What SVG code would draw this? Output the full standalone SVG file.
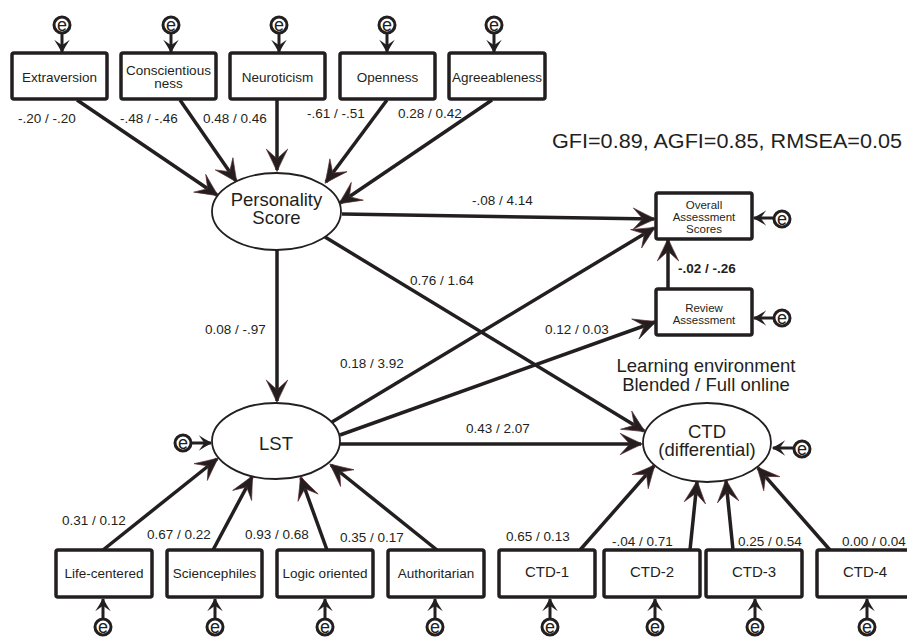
<svg xmlns="http://www.w3.org/2000/svg" width="907" height="637" viewBox="0 0 907 637">
  <style>
    text { font-family: "Liberation Sans", Arial, Helvetica, sans-serif; fill: #231f20; }
    .box { fill: #fff; stroke: #231f20; stroke-width: 3.5; }
    .ell { fill: #fff; stroke: #231f20; stroke-width: 1.8; }
    .edge { fill: none; stroke: #231f20; stroke-width: 3.5; marker-end: url(#ah); }
    .eline { fill: none; stroke: #231f20; stroke-width: 3; marker-end: url(#ahs); }
    .ering { fill: #fff; stroke: #231f20; stroke-width: 3; }
    .etxt { font-size: 18px; text-anchor: middle; }
    .node { font-size: 13.5px; text-anchor: middle; }
    .small { font-size: 11.5px; text-anchor: middle; }
    .big { font-size: 18.5px; text-anchor: middle; }
    .ctd { font-size: 15px; text-anchor: middle; }
    .lbl { font-size: 13.5px; }
  </style>
  <defs>
    <marker id="ah" markerUnits="userSpaceOnUse" markerWidth="30" markerHeight="30" viewBox="-24 -13 28 26" refX="-1.5" refY="0" orient="auto">
      <path d="M0,0 Q-9,-4 -21,-10 L-12,0 L-21,10 Q-9,4 0,0 Z" fill="#231f20" stroke="#5a2a2e" stroke-width="0.6"/>
    </marker>
    <marker id="ahs" markerUnits="userSpaceOnUse" markerWidth="20" markerHeight="20" viewBox="-15 -9 17 18" refX="-1" refY="0" orient="auto">
      <path d="M0,0 Q-6,-3 -12,-7 L-7,0 L-12,7 Q-6,3 0,0 Z" fill="#231f20"/>
    </marker>
  </defs>

  <!-- connectors -->
  <g id="connectors">
    <line class="edge" x1="77" y1="100" x2="217" y2="195"/>
    <line class="edge" x1="180" y1="100" x2="236" y2="181"/>
    <line class="edge" x1="277" y1="100" x2="277" y2="170"/>
    <line class="edge" x1="387" y1="100" x2="326" y2="182"/>
    <line class="edge" x1="492" y1="100" x2="340" y2="203"/>

    <line class="edge" x1="342" y1="214" x2="654" y2="219"/>
    <line class="edge" x1="277" y1="250" x2="277" y2="401"/>
    <line class="edge" x1="325" y1="237" x2="644" y2="431"/>
    <line class="edge" x1="332" y1="422" x2="654" y2="228"/>
    <line class="edge" x1="340" y1="435" x2="655" y2="322"/>
    <line class="edge" x1="340" y1="444" x2="641" y2="444"/>
    <line class="edge" x1="668" y1="289" x2="668" y2="240"/>

    <line class="edge" x1="103" y1="550" x2="217" y2="459"/>
    <line class="edge" x1="213" y1="550" x2="252" y2="477"/>
    <line class="edge" x1="327" y1="550" x2="301" y2="478"/>
    <line class="edge" x1="437" y1="550" x2="331" y2="465"/>

    <line class="edge" x1="580" y1="550" x2="654" y2="466"/>
    <line class="edge" x1="690" y1="550" x2="697" y2="482"/>
    <line class="edge" x1="733" y1="550" x2="726" y2="481"/>
    <line class="edge" x1="830" y1="550" x2="758" y2="468"/>
  </g>

  <!-- path coefficients -->
  <g id="labels">
    <text class="lbl" x="18" y="123">-.20 / -.20</text>
    <text class="lbl" x="120" y="123">-.48 / -.46</text>
    <text class="lbl" x="203" y="123">0.48 / 0.46</text>
    <text class="lbl" x="307" y="118">-.61 / -.51</text>
    <text class="lbl" x="398" y="118">0.28 / 0.42</text>
    <text class="lbl" x="472" y="205">-.08 / 4.14</text>
    <text class="lbl" x="410" y="285">0.76 / 1.64</text>
    <text class="lbl" x="205" y="334">0.08 / -.97</text>
    <text class="lbl" x="340" y="368">0.18 / 3.92</text>
    <text class="lbl" x="545" y="334">0.12 / 0.03</text>
    <text class="lbl" x="466" y="433">0.43 / 2.07</text>
    <text class="lbl" x="678" y="273" font-weight="bold">-.02 / -.26</text>
    <text class="lbl" x="62" y="525">0.31 / 0.12</text>
    <text class="lbl" x="147" y="539">0.67 / 0.22</text>
    <text class="lbl" x="245" y="539">0.93 / 0.68</text>
    <text class="lbl" x="340" y="542">0.35 / 0.17</text>
    <text class="lbl" x="506" y="541">0.65 / 0.13</text>
    <text class="lbl" x="612" y="546">-.04 / 0.71</text>
    <text class="lbl" x="738" y="546">0.25 / 0.54</text>
    <text class="lbl" x="842" y="546">0.00 / 0.04</text>
  </g>

  <text x="552" y="148" font-size="20" textLength="350" lengthAdjust="spacingAndGlyphs">GFI=0.89, AGFI=0.85, RMSEA=0.05</text>
  <text class="big" x="706" y="372" font-size="19">Learning environment</text>
  <text class="big" x="706" y="391" font-size="19">Blended / Full online</text>

  <!-- personality trait indicators -->
  <g id="extraversion">
    <rect class="box" x="12" y="53" width="95" height="46" rx="2"/>
    <text class="node" x="59.5" y="82">Extraversion</text>
    <line class="eline" x1="62" y1="34" x2="62" y2="52"/>
    <circle class="ering" cx="62" cy="25" r="8"/>
    <text class="etxt" x="62" y="31">e</text>
  </g>
  <g id="conscientiousness">
    <rect class="box" x="121" y="53" width="95" height="46" rx="2"/>
    <text class="node" x="168.5" y="75" font-size="13">Conscientious</text>
    <text class="node" x="168.5" y="88" font-size="13">ness</text>
    <line class="eline" x1="171" y1="34" x2="171" y2="52"/>
    <circle class="ering" cx="171" cy="25" r="8"/>
    <text class="etxt" x="171" y="31">e</text>
  </g>
  <g id="neuroticism">
    <rect class="box" x="230" y="53" width="95" height="46" rx="2"/>
    <text class="node" x="277.5" y="82">Neuroticism</text>
    <line class="eline" x1="279" y1="34" x2="279" y2="52"/>
    <circle class="ering" cx="279" cy="25" r="8"/>
    <text class="etxt" x="279" y="31">e</text>
  </g>
  <g id="openness">
    <rect class="box" x="340" y="53" width="95" height="46" rx="2"/>
    <text class="node" x="387.5" y="82">Openness</text>
    <line class="eline" x1="387" y1="34" x2="387" y2="52"/>
    <circle class="ering" cx="387" cy="25" r="8"/>
    <text class="etxt" x="387" y="31">e</text>
  </g>
  <g id="agreeableness">
    <rect class="box" x="449" y="53" width="96" height="46" rx="2"/>
    <text class="node" x="497" y="82" font-size="12.2">Agreeableness</text>
    <line class="eline" x1="494" y1="34" x2="494" y2="52"/>
    <circle class="ering" cx="494" cy="25" r="8"/>
    <text class="etxt" x="494" y="31">e</text>
  </g>

  <!-- latent variables -->
  <g id="personality-score">
    <ellipse class="ell" cx="276.5" cy="211.5" rx="64.5" ry="38.5"/>
    <text class="big" x="276.5" y="206">Personality</text>
    <text class="big" x="276.5" y="224">Score</text>
  </g>
  <g id="lst">
    <ellipse class="ell" cx="276" cy="441" rx="64" ry="38"/>
    <text class="big" x="276" y="450">LST</text>
    <line class="eline" x1="192" y1="443" x2="211" y2="443"/>
    <circle class="ering" cx="183" cy="443" r="8"/>
    <text class="etxt" x="183" y="449">e</text>
  </g>
  <g id="ctd">
    <ellipse class="ell" cx="707" cy="442.5" rx="64" ry="39.5"/>
    <text class="big" x="707" y="438">CTD</text>
    <text class="big" x="707" y="456">(differential)</text>
    <line class="eline" x1="793" y1="448" x2="773" y2="448"/>
    <circle class="ering" cx="802" cy="449" r="8"/>
    <text class="etxt" x="802" y="455">e</text>
  </g>

  <!-- outcome measures -->
  <g id="overall-assessment">
    <rect class="box" x="656" y="193" width="96" height="46" rx="2"/>
    <text class="small" x="704" y="209">Overall</text>
    <text class="small" x="704" y="221">Assessment</text>
    <text class="small" x="704" y="233">Scores</text>
    <line class="eline" x1="773" y1="218" x2="754" y2="218"/>
    <circle class="ering" cx="782" cy="219" r="8"/>
    <text class="etxt" x="782" y="225">e</text>
  </g>
  <g id="review-assessment">
    <rect class="box" x="656" y="289" width="96" height="46" rx="2"/>
    <text class="small" x="704" y="312">Review</text>
    <text class="small" x="704" y="324">Assessment</text>
    <line class="eline" x1="773" y1="318" x2="754" y2="318"/>
    <circle class="ering" cx="782" cy="318" r="8"/>
    <text class="etxt" x="782" y="324">e</text>
  </g>

  <!-- learning style type indicators -->
  <g id="life-centered">
    <rect class="box" x="56" y="550" width="96" height="47" rx="2"/>
    <text class="node" x="104" y="578">Life-centered</text>
    <line class="eline" x1="103" y1="618" x2="103" y2="599"/>
    <circle class="ering" cx="103" cy="627" r="8"/>
    <text class="etxt" x="103" y="633">e</text>
  </g>
  <g id="sciencephiles">
    <rect class="box" x="167" y="550" width="95" height="47" rx="2"/>
    <text class="node" x="214.5" y="578">Sciencephiles</text>
    <line class="eline" x1="215" y1="618" x2="215" y2="599"/>
    <circle class="ering" cx="215" cy="627" r="8"/>
    <text class="etxt" x="215" y="633">e</text>
  </g>
  <g id="logic-oriented">
    <rect class="box" x="277" y="550" width="96" height="47" rx="2"/>
    <text class="node" x="325" y="578">Logic oriented</text>
    <line class="eline" x1="325" y1="618" x2="325" y2="599"/>
    <circle class="ering" cx="325" cy="627" r="8"/>
    <text class="etxt" x="325" y="633">e</text>
  </g>
  <g id="authoritarian">
    <rect class="box" x="388" y="550" width="96" height="47" rx="2"/>
    <text class="node" x="436" y="578">Authoritarian</text>
    <line class="eline" x1="435" y1="618" x2="435" y2="599"/>
    <circle class="ering" cx="435" cy="627" r="8"/>
    <text class="etxt" x="435" y="633">e</text>
  </g>

  <!-- CTD indicators -->
  <g id="ctd-1">
    <rect class="box" x="499" y="550" width="96" height="47" rx="2"/>
    <text class="ctd" x="547" y="577">CTD-1</text>
    <line class="eline" x1="550" y1="618" x2="550" y2="599"/>
    <circle class="ering" cx="550" cy="627" r="8"/>
    <text class="etxt" x="550" y="633">e</text>
  </g>
  <g id="ctd-2">
    <rect class="box" x="604" y="550" width="96" height="47" rx="2"/>
    <text class="ctd" x="652" y="577">CTD-2</text>
    <line class="eline" x1="655" y1="618" x2="655" y2="599"/>
    <circle class="ering" cx="655" cy="627" r="8"/>
    <text class="etxt" x="655" y="633">e</text>
  </g>
  <g id="ctd-3">
    <rect class="box" x="706" y="550" width="96" height="47" rx="2"/>
    <text class="ctd" x="754" y="577">CTD-3</text>
    <line class="eline" x1="755" y1="618" x2="755" y2="599"/>
    <circle class="ering" cx="755" cy="627" r="8"/>
    <text class="etxt" x="755" y="633">e</text>
  </g>
  <g id="ctd-4">
    <rect class="box" x="817" y="550" width="96" height="47" rx="2"/>
    <text class="ctd" x="865" y="577">CTD-4</text>
    <line class="eline" x1="867" y1="618" x2="867" y2="599"/>
    <circle class="ering" cx="867" cy="627" r="8"/>
    <text class="etxt" x="867" y="633">e</text>
  </g>
</svg>
